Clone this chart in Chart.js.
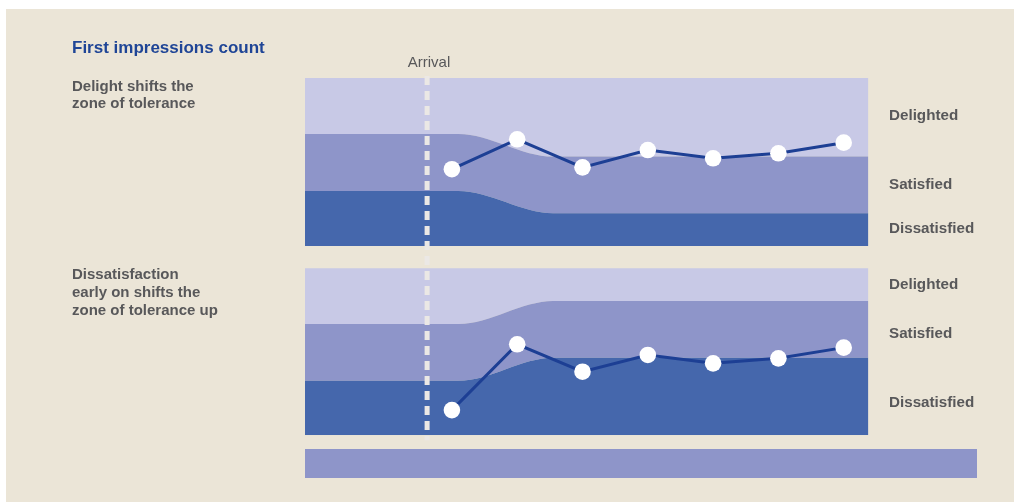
<!DOCTYPE html>
<html>
<head>
<meta charset="utf-8">
<script src="https://cdn.jsdelivr.net/npm/chart.js@4/dist/chart.umd.min.js"></script>
<style>
  html, body { margin: 0; padding: 0; background: #ffffff; width: 1014px; height: 502px; overflow: hidden; }
  #bg { position: absolute; left: 6px; top: 9px; right: 0; bottom: 0; background: #ebe5d7; }
  #c { position: absolute; left: 0; top: 0; }
  .t { position: absolute; font-family: "Liberation Sans", Arial, sans-serif; color: #58585a; white-space: nowrap; }
  .title { left: 72px; top: 38px; font-size: 17px; line-height: 20px; font-weight: bold; color: #1f4596; }
  .sub { left: 72px; font-size: 15px; font-weight: bold; line-height: 17.6px; }
  .zone { left: 889px; font-size: 15.2px; font-weight: bold; line-height: 17.5px; }
  .arr { left: 399px; width: 60px; text-align: center; top: 52.7px; font-size: 15px; line-height: 17.5px; }
  #strip { position: absolute; left: 305px; top: 449px; width: 672px; height: 29px; background: #8e95c9; }
</style>
</head>
<body>
<div id="bg"></div>
<div id="strip"></div>
<canvas id="c" width="1014" height="502"></canvas>
<div class="t title">First impressions count</div>
<div class="t sub" style="top:76.8px">Delight shifts the<br>zone of tolerance</div>
<div class="t sub" style="top:265.4px">Dissatisfaction<br>early on shifts the<br>zone of tolerance up</div>
<div class="t arr">Arrival</div>
<div class="t zone" style="top:106px">Delighted</div>
<div class="t zone" style="top:175px">Satisfied</div>
<div class="t zone" style="top:219.4px">Dissatisfied</div>
<div class="t zone" style="top:275px">Delighted</div>
<div class="t zone" style="top:324.4px">Satisfied</div>
<div class="t zone" style="top:392.7px">Dissatisfied</div>
<script>
// ---- data ----
const zoneLabels = ["Dissatisfied", "Satisfied", "Delighted"];
const zoneX = [-1.25, 1.1, 2.55, 7.38];            // time positions where zone boundaries are defined
const p1Dissatisfied = [3.27, 3.27, 1.95, 1.95];   // upper edge of "Dissatisfied" zone, panel 1
const p1Satisfied    = [6.67, 6.67, 5.32, 5.32];   // upper edge of "Satisfied" zone, panel 1
const p1Delighted    = [10, 10, 10, 10];
const p2Dissatisfied = [3.27, 3.27, 4.65, 4.65];
const p2Satisfied    = [6.66, 6.66, 8.04, 8.04];
const p2Delighted    = [10, 10, 10, 10];
const visits = [1, 2, 3, 4, 5, 6, 7];
const p1Scores = [4.57, 6.35, 4.68, 5.71, 5.22, 5.52, 6.15];
const p2Scores = [1.51, 5.45, 3.81, 4.81, 4.31, 4.61, 5.25];
const arrivalX = 0.62;

const colDis = "#4567ac", colSat = "#8e95c9", colDel = "#c8c9e6", colLine = "#1d3f94";

function pts(xs, ys) { return xs.map((x, i) => ({ x: x, y: ys[i] })); }
function zone(label, data, axis, color, fill) {
  return { label: label, data: pts(zoneX, data), yAxisID: axis, backgroundColor: color, borderWidth: 0,
           borderColor: color, pointRadius: 0, fill: fill, cubicInterpolationMode: "monotone", order: 2 };
}
function scoreSet(data, axis) {
  return { label: "Score", data: pts(visits, data), yAxisID: axis, borderColor: colLine, borderWidth: 3,
           pointRadius: 8.3, pointBackgroundColor: "#ffffff", pointBorderWidth: 0, pointBorderColor: "#ffffff",
           fill: false, tension: 0, order: 0 };
}

const arrivalPlugin = {
  id: "arrival",
  afterDatasetsDraw(chart) {
    const ctx = chart.ctx, a = chart.chartArea;
    const x = chart.scales.x.getPixelForValue(arrivalX);
    ctx.save();
    ctx.strokeStyle = "#ebe8e5";
    ctx.lineWidth = 5;
    ctx.setLineDash([9, 6]);
    ctx.beginPath();
    ctx.moveTo(x, a.top - 2);
    ctx.lineTo(x, a.bottom + 5);
    ctx.stroke();
    ctx.restore();
  }
};

new Chart(document.getElementById("c"), {
  type: "line",
  data: {
    datasets: [
      scoreSet(p1Scores, "y1"),
      scoreSet(p2Scores, "y2"),
      zone(zoneLabels[0], p1Dissatisfied, "y1", colDis, "origin"),
      zone(zoneLabels[1], p1Satisfied, "y1", colSat, "-1"),
      zone(zoneLabels[2], p1Delighted, "y1", colDel, "-1"),
      zone(zoneLabels[0], p2Dissatisfied, "y2", colDis, "origin"),
      zone(zoneLabels[1], p2Satisfied, "y2", colSat, "-1"),
      zone(zoneLabels[2], p2Delighted, "y2", colDel, "-1")
    ]
  },
  options: {
    responsive: false,
    animation: false,
    devicePixelRatio: 1,
    events: [],
    layout: { padding: { left: 305, right: 145.5, top: 78, bottom: 66.7 } },
    plugins: { legend: { display: false }, tooltip: { enabled: false } },
    scales: {
      x: { type: "linear", min: -1.25, max: 7.38, display: false },
      y1: { type: "linear", min: -11.27, max: 10, display: false },
      y2: { type: "linear", min: 0, max: 21.4, display: false }
    }
  },
  plugins: [arrivalPlugin]
});
</script>
</body>
</html>
